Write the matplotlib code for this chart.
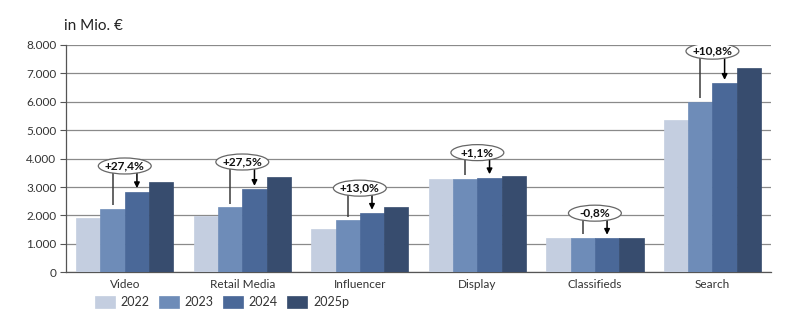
import matplotlib
matplotlib.use("Agg")
import matplotlib.pyplot as plt
import numpy as np
from matplotlib.patches import Ellipse

plt.rcParams['font.family'] = ['Lato', 'DejaVu Sans']

categories = ["Video", "Retail Media", "Influencer", "Display", "Classifieds", "Search"]
years = ["2022", "2023", "2024", "2025p"]
v2022 = [1900, 1980, 1510, 3270, 1210, 5350]
v2023 = [2230, 2290, 1840, 3290, 1210, 6000]
v2024 = [2840, 2920, 2080, 3330, 1200, 6650]
v2025 = [3170, 3345, 2300, 3390, 1200, 7190]
growth_labels = ["+27,4%", "+27,5%", "+13,0%", "+1,1%", "-0,8%", "+10,8%"]

series = [v2022, v2023, v2024, v2025]
colors = ["#C4CEE0", "#6E8CB8", "#4A6898", "#374C6E"]

fig = plt.figure(figsize=(8, 3.23), dpi=100)
ax = fig.add_axes([0.0825, 0.157, 0.8815, 0.704])

n = len(categories)
x = np.arange(n)
bw = 0.207
offsets = (np.arange(4) - 1.5) * bw

for i, (vals, col) in enumerate(zip(series, colors)):
    ax.bar(x + offsets[i], vals, width=bw, color=col, edgecolor=col,
           linewidth=0.5, zorder=3, label=years[i])

ax.set_xlim(-0.5, n - 0.5)
ax.set_ylim(0, 8000)
ax.set_yticks(range(0, 8001, 1000))
ax.set_yticklabels(["0"] + [f"{v // 1000}.000" for v in range(1000, 8001, 1000)],
                   fontsize=8.5, color="#333333")
ax.yaxis.grid(True, color="#8a8a8a", linewidth=0.9, zorder=0)
ax.set_axisbelow(True)
ax.set_xticks(x)
ax.set_xticklabels(categories, fontsize=8.5, color="#333333")
ax.tick_params(axis="x", length=0, pad=5)
ax.tick_params(axis="y", length=4, width=0.8, color="#555555", pad=3)
for s in ["top", "right"]:
    ax.spines[s].set_visible(False)
ax.spines["left"].set_color("#555555")
ax.spines["bottom"].set_color("#555555")
ax.spines["left"].set_linewidth(0.9)
ax.spines["bottom"].set_linewidth(0.9)

# growth call-outs: ellipse above each group, line from 2023 bar, arrow to 2024 bar
label_lift = [900, 960, 880, 880, 880, 1130]
px_per_unit = (0.704 * 3.23 * 100) / 8000
ell_h = 16 / px_per_unit
ell_w = 0.45
gap = 120
for i in range(n):
    cy = v2024[i] + label_lift[i]
    cx = x[i]
    bottom = cy - ell_h / 2 + 40
    ax.plot([cx + offsets[1]] * 2, [v2023[i] + gap, bottom], color="#3a3a3a",
            linewidth=1.1, zorder=4, solid_capstyle="butt")
    ax.annotate("", xy=(cx + offsets[2], v2024[i] + gap), xytext=(cx + offsets[2], bottom),
                arrowprops=dict(arrowstyle="-|>", color="black", lw=1.1,
                                mutation_scale=8, shrinkA=0, shrinkB=0), zorder=4)
    ax.add_patch(Ellipse((cx, cy), ell_w, ell_h, facecolor="white",
                         edgecolor="#666666", linewidth=0.9, zorder=5))
    ax.text(cx, cy, growth_labels[i], ha="center", va="center", fontsize=8.6,
            fontweight="bold", color="#111111", zorder=6)

fig.text(0.08, 0.918, "in Mio. €", fontsize=11, color="#222222", ha="left", va="center")

leg = fig.legend(loc="center left", bbox_to_anchor=(0.112, 0.065), ncol=4, frameon=False,
                 fontsize=9, handlelength=1.6, handleheight=1.1, handletextpad=0.5,
                 columnspacing=0.7, borderaxespad=0)
for t in leg.get_texts():
    t.set_color("#333333")

fig.savefig("out.png", dpi=100)
